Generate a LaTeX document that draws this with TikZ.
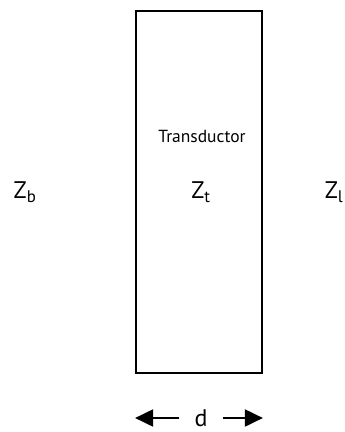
\documentclass[tikz,border=0pt]{standalone}
\usepackage{fontspec}
\setmainfont{PT Sans}
\usetikzlibrary{arrows.meta,positioning}

\begin{document}
\begin{tikzpicture}[x=1pt,y=-1pt,
    box/.style={draw, line width=1.8pt, minimum width=126pt, minimum height=362pt, inner sep=0pt},
    imp/.style={inner sep=0pt, font=\fontsize{24}{24}\selectfont},
    arr/.style={-{Triangle[length=18pt,width=17pt]}, line width=2pt}
]
\useasboundingbox (0,0) rectangle (345,432);
\node[box] (trans) at (199,192) {};
\node[font=\fontsize{17.5}{17.5}\selectfont, inner sep=0pt] (name) at (202,136) {Transductor};
\node[imp] (zt) at (201,192) {Z\textsubscript{t}};
\node[imp] (zb) at (25,192) {Z\textsubscript{b}};
\node[imp] (zl) at (334,192) {Z\textsubscript{l}};

\node[imp, inner xsep=15pt] (d) at (201,418) {d};
\coordinate (dl) at (trans.south west |- d);
\coordinate (dr) at (trans.south east |- d);
\draw[arr] (d.west) -- (dl);
\draw[arr] (d.east) -- (dr);
\end{tikzpicture}
\end{document}
